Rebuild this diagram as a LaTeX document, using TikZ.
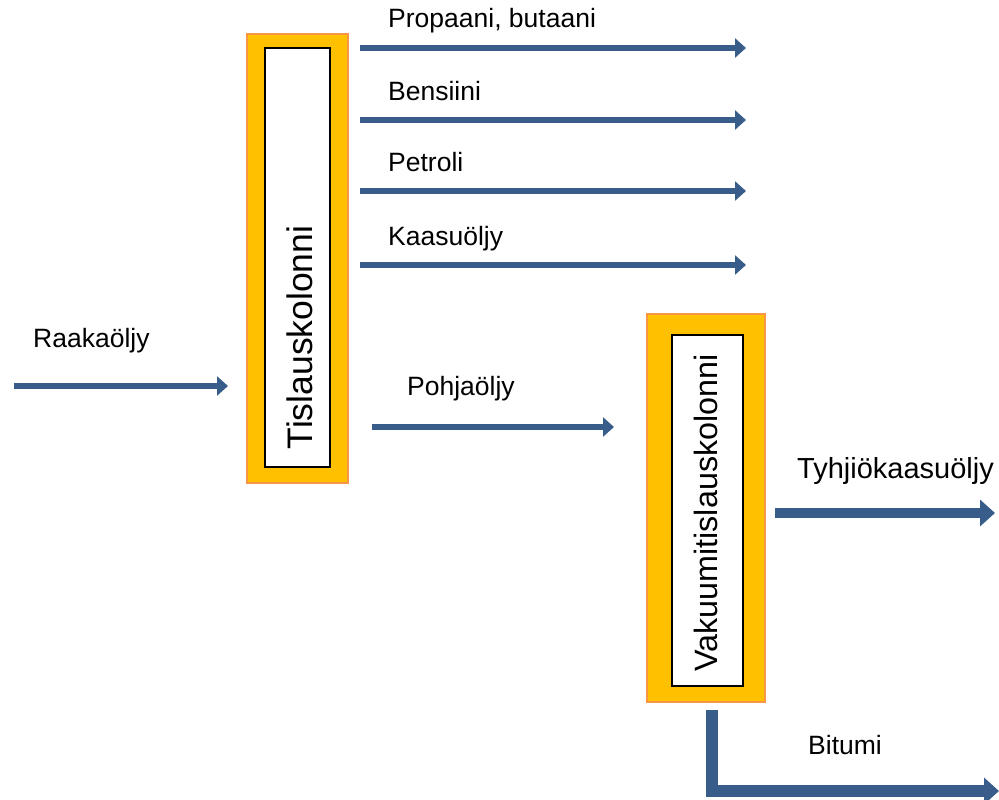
\documentclass[tikz,border=0pt]{standalone}
\usepackage{fontspec}
\setmainfont{Liberation Sans}
\usetikzlibrary{arrows.meta,positioning}
\definecolor{flowblue}{RGB}{56,93,138}
\definecolor{colfill}{RGB}{255,192,0}
\definecolor{colline}{RGB}{247,150,70}
\tikzset{%
  shell/.style={draw=colline,line width=2pt,fill=colfill,inner sep=0pt},
  core/.style={draw=black,line width=1.6pt,fill=white,inner sep=0pt},
  pipe/.style={draw=flowblue,line width=6pt,-{Triangle[length=11pt,width=19pt]}},
  bigpipe/.style={draw=flowblue,line width=9.5pt,-{Triangle[length=15pt,width=26pt]}},
  lbl/.style={font=\fontsize{26.5}{30}\selectfont,anchor=base west,inner sep=0pt}
}
\begin{document}
\begin{tikzpicture}[x=1pt,y=-1pt,
	colname/.style={rotate=90,anchor=base,inner sep=0pt}]
	\useasboundingbox (0,0) rectangle (999,800);
	% kolonnit
	\node[shell,minimum width=101pt,minimum height=449pt] (tis) at (297.5,258.5) {};
	\node[core,minimum width=65.4pt,minimum height=419.4pt] (tisin) at (297.5,257.5) {};
	\node[colname,font=\fontsize{35.5}{40}\selectfont] (tistxt) at (312,337.5) {Tislauskolonni};
	\node[shell,minimum width=118pt,minimum height=388pt] (vak) at (706,508) {};
	\node[core,minimum width=71.4pt,minimum height=351.4pt] (vakin) at (707.5,510.5) {};
	\node[colname,font=\fontsize{32.3}{36}\selectfont] (vaktxt) at (717,513) {Vakuumitislauskolonni};
	% syotto
	\coordinate (feed) at (14,386);
	\draw[pipe] (feed) -- ([xshift=-18pt]tis.west |- feed);
	\node[lbl] (raaka) at (33,347) {Raakaöljy};
	% tislaustuotteet
	\coordinate (o1) at (746,48);
	\coordinate (o2) at (746,120);
	\coordinate (o3) at (746,191);
	\coordinate (o4) at (746,265);
	\foreach \o in {o1,o2,o3,o4}
		\draw[pipe] ([xshift=11pt]tis.east |- \o) -- (\o);
	\node[lbl] (propaani) at (388,28) {Propaani, butaani};
	\node[lbl] (bensiini) at (388,100) {Bensiini};
	\node[lbl] (petroli) at (388,171) {Petroli};
	\node[lbl] (kaasu) at (388,245) {Kaasuöljy};
	% pohjaoljy
	\coordinate (pohja) at (372,427);
	\draw[pipe] (pohja) -- ([xshift=-32pt]vak.west |- pohja);
	\node[lbl] (pohjatxt) at (407,395) {Pohjaöljy};
	% vakuumituotteet
	\coordinate (tyhjio) at (995,513);
	\draw[bigpipe] ([xshift=9pt]vak.east |- tyhjio) -- (tyhjio);
	\node[lbl,font=\fontsize{29}{33}\selectfont] (tyhjiotxt) at (797,478) {Tyhjiökaasuöljy};
	\coordinate (bitumi) at (999,791);
	\draw[bigpipe,line width=11.5pt] ([xshift=6pt,yshift=-7pt]vak.south) |- (bitumi);
	\node[lbl] (bitumitxt) at (808,754) {Bitumi};
\end{tikzpicture}
\end{document}
